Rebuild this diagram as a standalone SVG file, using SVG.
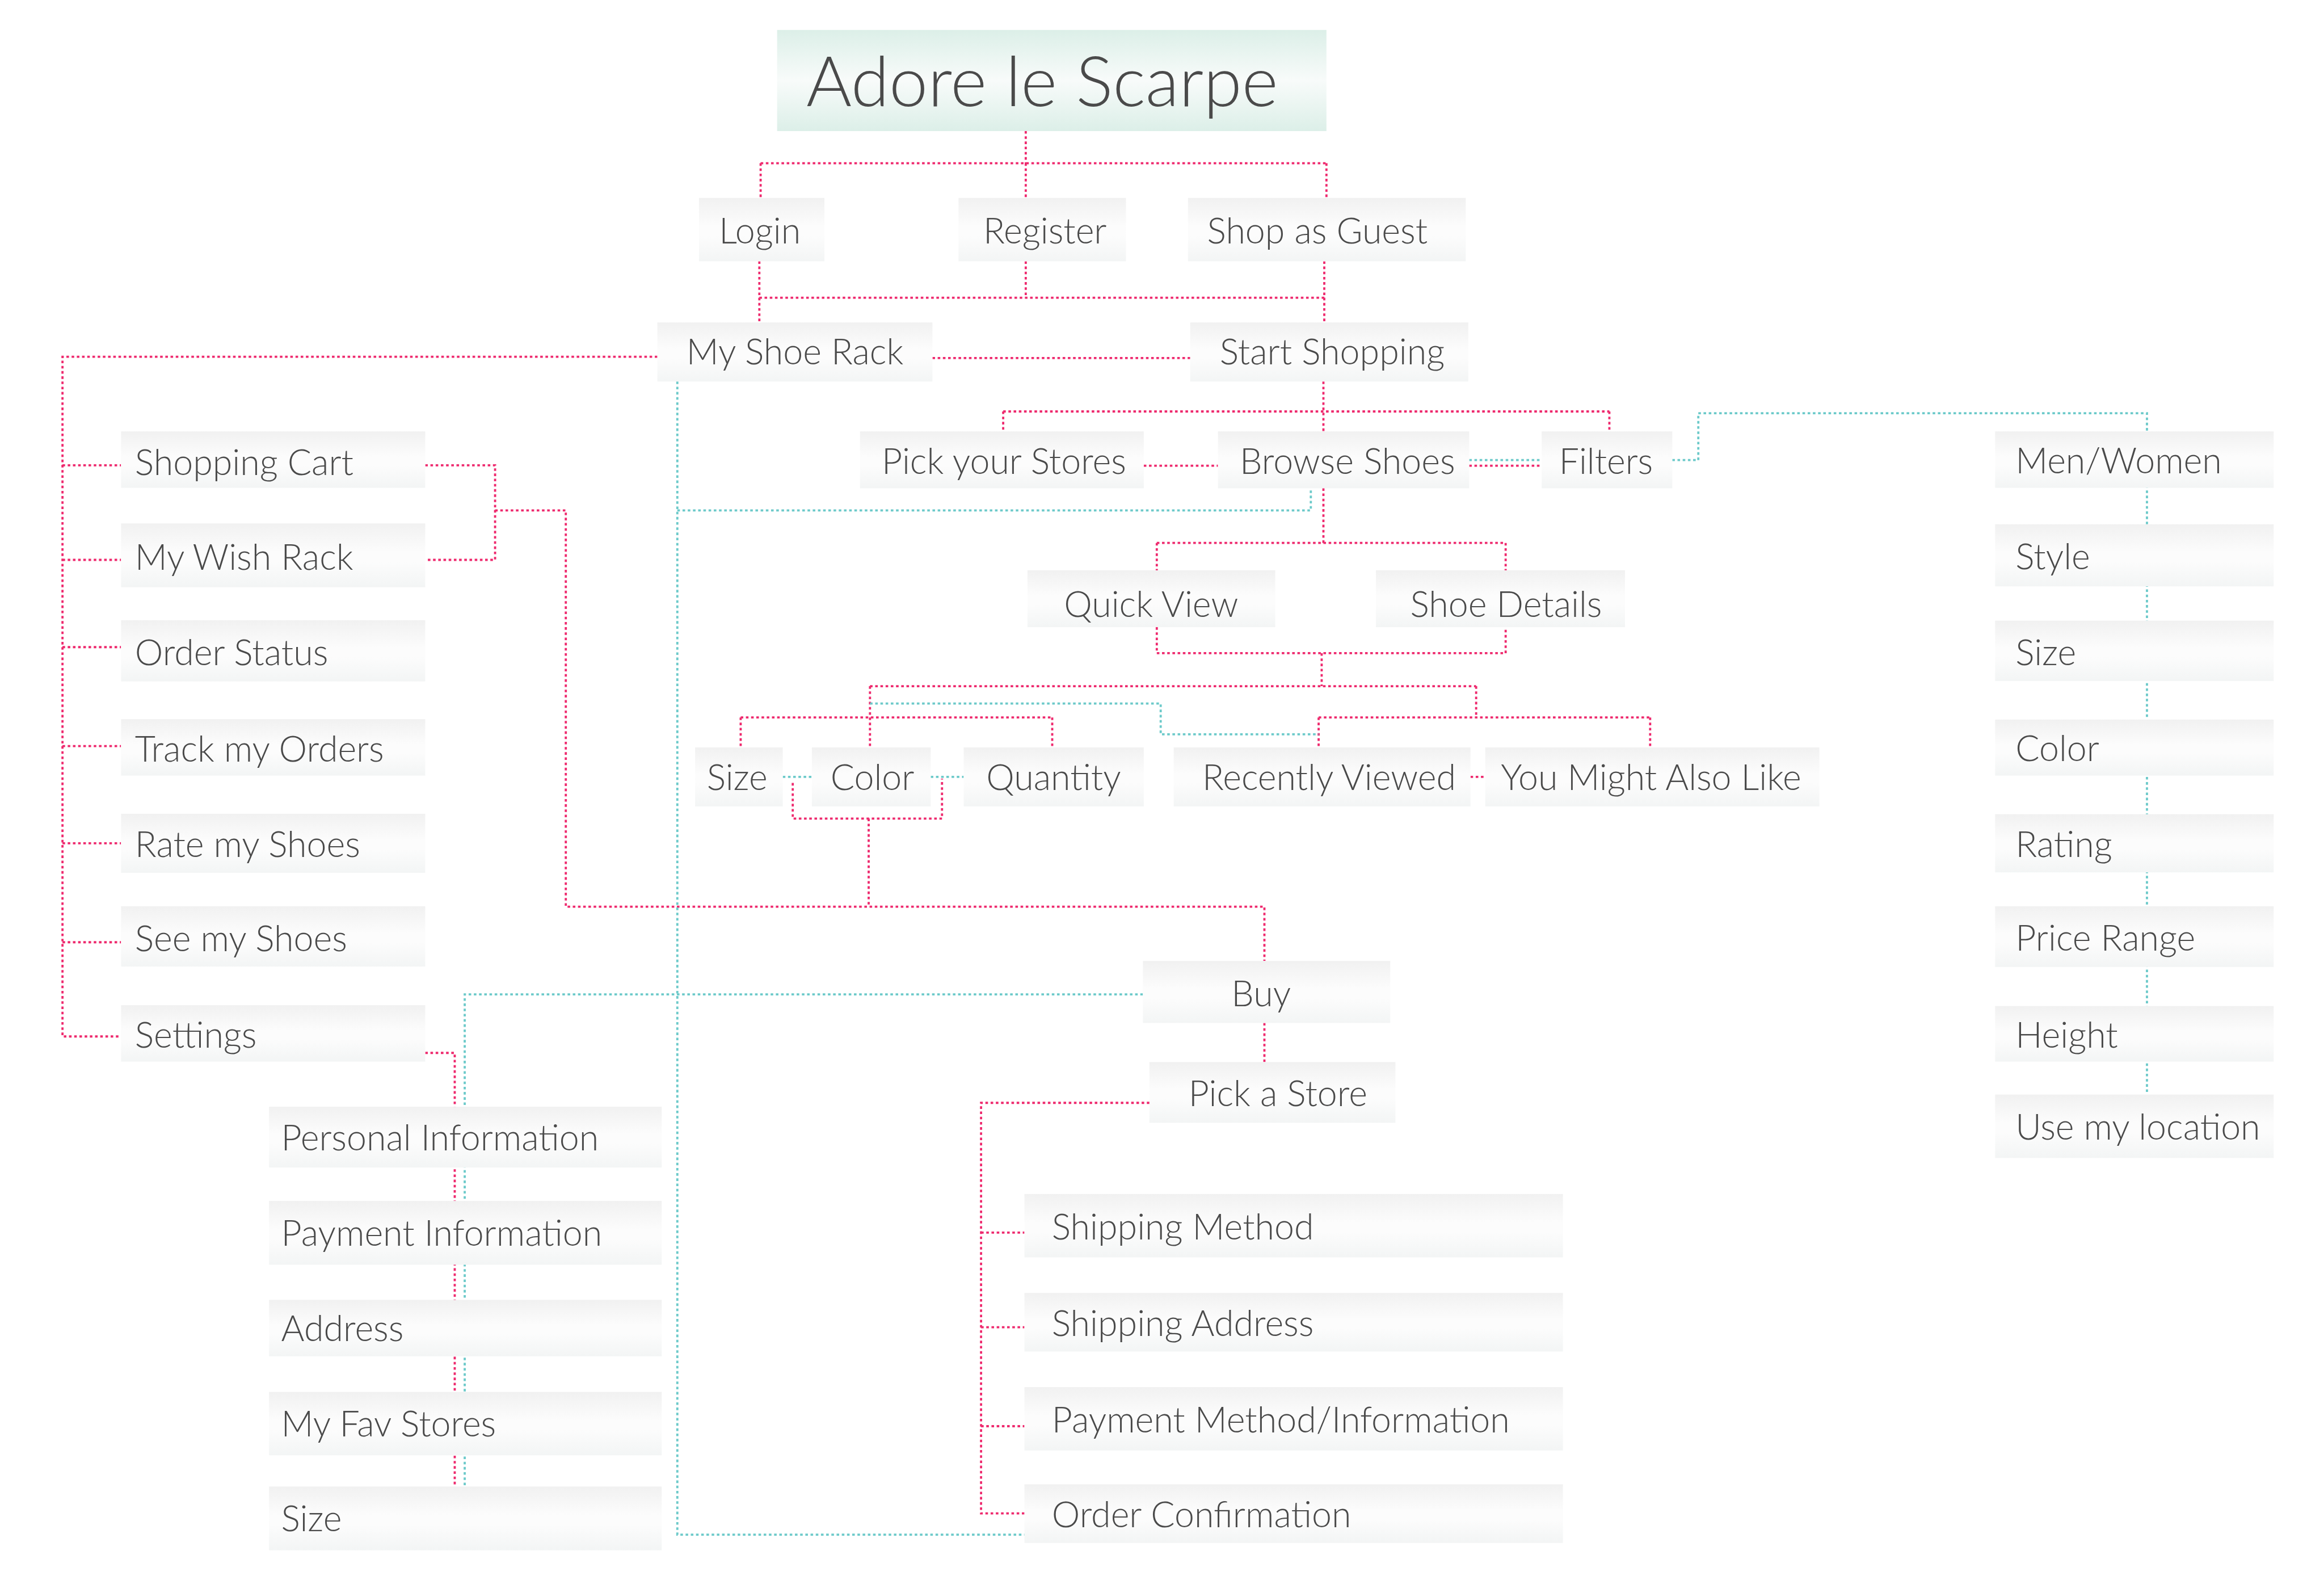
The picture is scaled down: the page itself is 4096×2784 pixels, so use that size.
<svg xmlns="http://www.w3.org/2000/svg" width="4096" height="2784" viewBox="0 0 4096 2784">
<defs>
<linearGradient id="gb" x1="0" y1="0" x2="0" y2="1">
<stop offset="0" stop-color="#f1f1f1"/><stop offset="0.45" stop-color="#fcfcfc"/><stop offset="0.6" stop-color="#fcfcfc"/><stop offset="1" stop-color="#f3f5f5"/>
</linearGradient>
<linearGradient id="gt" x1="0" y1="0" x2="0" y2="1">
<stop offset="0" stop-color="#dcefe8"/><stop offset="0.5" stop-color="#f8fbfa"/><stop offset="1" stop-color="#dcefe8"/>
</linearGradient>
<style>
.b{fill:url(#gb)}
.t{font-family:Lato,"Open Sans","Liberation Sans",sans-serif;font-weight:300;font-size:82px;fill:#4a4a4a}
.p{fill:none;stroke:#ee2a6e;stroke-width:5;stroke-dasharray:6 6}
.c{fill:none;stroke:#6dcaca;stroke-width:5;stroke-dasharray:6 6}
</style>
</defs>
<rect width="4096" height="2784" fill="#ffffff"/>
<g transform="scale(0.76475)">
<g id="connectors">
<path class="p" d="M2364 302V376M1753 376H3057M1753 376V456M2364 376V456M3057 376V456"/>
<path class="p" d="M1750 602V743M2364 602V686M1750 686H3052M3052 602V743"/>
<path class="p" d="M2149 825H2743"/>
<path class="p" d="M1515 822H144V2388H279M144 1072H279M144 1290H279M144 1491H279M144 1719H279M144 1943H279M144 2171H279"/>
<path class="p" d="M980 1072H1141V1290H980M1141 1176H1304V2089H2914V2214"/>
<path class="p" d="M3050 879V994M2312 948H3709M2312 948V994M3709 948V994"/>
<path class="p" d="M2636 1073H2807M3386 1073H3553"/>
<path class="p" d="M3050 1125V1251M2666 1251H3470M2666 1251V1314M3470 1251V1314"/>
<path class="p" d="M2666 1445V1505H3470V1445M3046 1505V1581M2005 1581H3402M2005 1581V1722M3402 1581V1653M3039 1653H3803M3039 1653V1722M3803 1653V1722"/>
<path class="p" d="M1707 1653H2425M1707 1653V1722M2425 1653V1722"/>
<path class="p" d="M3389 1790H3423"/>
<path class="p" d="M1827 1804V1886H2171V1794M2002 1886V2089"/>
<path class="p" d="M2914 2357V2447"/>
<path class="p" d="M2649 2541H2261V3487H2361M2261 2840H2361M2261 3058H2361M2261 3286H2361"/>
<path class="p" d="M980 2426H1048V3425"/>
<path class="c" d="M1561 879V3536H2361"/>
<path class="c" d="M1561 1176H3021V1125"/>
<path class="c" d="M3386 1060H3553"/>
<path class="c" d="M3854 1060H3914V952H4948V2522"/>
<path class="c" d="M2005 1621H2675V1692H3039"/>
<path class="c" d="M1804 1790H1871M2145 1790H2221"/>
<path class="c" d="M2634 2291H1071V3425"/>
</g>
<g id="title"><rect x="1791" y="69" width="1266" height="233" fill="url(#gt)"/><text class="t" x="1858" y="244" style="font-size:160px">Adore le Scarpe</text></g>
<g id="login"><rect class="b" x="1611" y="456" width="289" height="146"/><text class="t" x="1657" y="561">Login</text></g>
<g id="register"><rect class="b" x="2209" y="456" width="386" height="146"/><text class="t" x="2266" y="561">Register</text></g>
<g id="guest"><rect class="b" x="2738" y="456" width="640" height="146"/><text class="t" x="2782" y="561">Shop as Guest</text></g>
<g id="shoerack"><rect class="b" x="1515" y="743" width="634" height="136"/><text class="t" x="1582" y="840">My Shoe Rack</text></g>
<g id="startshopping"><rect class="b" x="2743" y="743" width="641" height="136"/><text class="t" x="2811" y="840">Start Shopping</text></g>
<g id="pickstores"><rect class="b" x="1982" y="994" width="654" height="131"/><text class="t" x="2032" y="1092">Pick your Stores</text></g>
<g id="browse"><rect class="b" x="2807" y="994" width="579" height="131"/><text class="t" x="2857" y="1092">Browse Shoes</text></g>
<g id="filters"><rect class="b" x="3553" y="994" width="301" height="131"/><text class="t" x="3593" y="1092">Filters</text></g>
<g id="quickview"><rect class="b" x="2368" y="1314" width="571" height="131"/><text class="t" x="2452" y="1422">Quick View</text></g>
<g id="shoedetails"><rect class="b" x="3171" y="1314" width="574" height="131"/><text class="t" x="3250" y="1422">Shoe Details</text></g>
<g id="size1"><rect class="b" x="1602" y="1722" width="202" height="136"/><text class="t" x="1629" y="1820">Size</text></g>
<g id="color1"><rect class="b" x="1871" y="1722" width="274" height="136"/><text class="t" x="1914" y="1820">Color</text></g>
<g id="quantity"><rect class="b" x="2221" y="1722" width="415" height="136"/><text class="t" x="2273" y="1820">Quantity</text></g>
<g id="recent"><rect class="b" x="2705" y="1722" width="684" height="136"/><text class="t" x="2771" y="1820">Recently Viewed</text></g>
<g id="alsolike"><rect class="b" x="3423" y="1722" width="770" height="136"/><text class="t" x="3459" y="1820">You Might Also Like</text></g>
<g id="cart"><rect class="b" x="279" y="994" width="701" height="130"/><text class="t" x="311" y="1094">Shopping Cart</text></g>
<g id="wish"><rect class="b" x="279" y="1206" width="701" height="147"/><text class="t" x="311" y="1313">My Wish Rack</text></g>
<g id="orderstatus"><rect class="b" x="279" y="1429" width="701" height="141"/><text class="t" x="311" y="1533">Order Status</text></g>
<g id="track"><rect class="b" x="279" y="1657" width="701" height="130"/><text class="t" x="311" y="1755">Track my Orders</text></g>
<g id="rate"><rect class="b" x="279" y="1875" width="701" height="136"/><text class="t" x="311" y="1975">Rate my Shoes</text></g>
<g id="see"><rect class="b" x="279" y="2088" width="701" height="139"/><text class="t" x="311" y="2191">See my Shoes</text></g>
<g id="settings"><rect class="b" x="279" y="2316" width="701" height="130"/><text class="t" x="311" y="2414">Settings</text></g>
<g id="f-menwomen"><rect class="b" x="4598" y="994" width="642" height="130"/><text class="t" x="4645" y="1091">Men/Women</text></g>
<g id="f-style"><rect class="b" x="4598" y="1208" width="642" height="143"/><text class="t" x="4645" y="1312">Style</text></g>
<g id="f-size"><rect class="b" x="4598" y="1430" width="642" height="139"/><text class="t" x="4645" y="1532">Size</text></g>
<g id="f-color"><rect class="b" x="4598" y="1658" width="642" height="129"/><text class="t" x="4645" y="1754">Color</text></g>
<g id="f-rating"><rect class="b" x="4598" y="1876" width="642" height="134"/><text class="t" x="4645" y="1974">Rating</text></g>
<g id="f-price"><rect class="b" x="4598" y="2088" width="642" height="140"/><text class="t" x="4645" y="2190">Price Range</text></g>
<g id="f-height"><rect class="b" x="4598" y="2318" width="642" height="128"/><text class="t" x="4645" y="2414">Height</text></g>
<g id="f-location"><rect class="b" x="4598" y="2522" width="642" height="146"/><text class="t" x="4645" y="2626">Use my location</text></g>
<g id="buy"><rect class="b" x="2634" y="2214" width="570" height="143"/><text class="t" x="2838" y="2318">Buy</text></g>
<g id="pickastore"><rect class="b" x="2649" y="2447" width="567" height="140"/><text class="t" x="2739" y="2549">Pick a Store</text></g>
<g id="personal"><rect class="b" x="620" y="2550" width="905" height="140"/><text class="t" x="648" y="2650">Personal Information</text></g>
<g id="payment"><rect class="b" x="620" y="2767" width="905" height="147"/><text class="t" x="648" y="2870">Payment Information</text></g>
<g id="address"><rect class="b" x="620" y="2995" width="905" height="130"/><text class="t" x="648" y="3090">Address</text></g>
<g id="favstores"><rect class="b" x="620" y="3207" width="905" height="146"/><text class="t" x="648" y="3310">My Fav Stores</text></g>
<g id="size2"><rect class="b" x="620" y="3425" width="905" height="147"/><text class="t" x="648" y="3528">Size</text></g>
<g id="shipmethod"><rect class="b" x="2361" y="2751" width="1241" height="146"/><text class="t" x="2424" y="2856">Shipping Method</text></g>
<g id="shipaddress"><rect class="b" x="2361" y="2979" width="1241" height="135"/><text class="t" x="2424" y="3078">Shipping Address</text></g>
<g id="paymethod"><rect class="b" x="2361" y="3196" width="1241" height="146"/><text class="t" x="2424" y="3301">Payment Method/Information</text></g>
<g id="orderconf"><rect class="b" x="2361" y="3420" width="1241" height="135"/><text class="t" x="2424" y="3519">Order Confirmation</text></g>
</g>
</svg>
